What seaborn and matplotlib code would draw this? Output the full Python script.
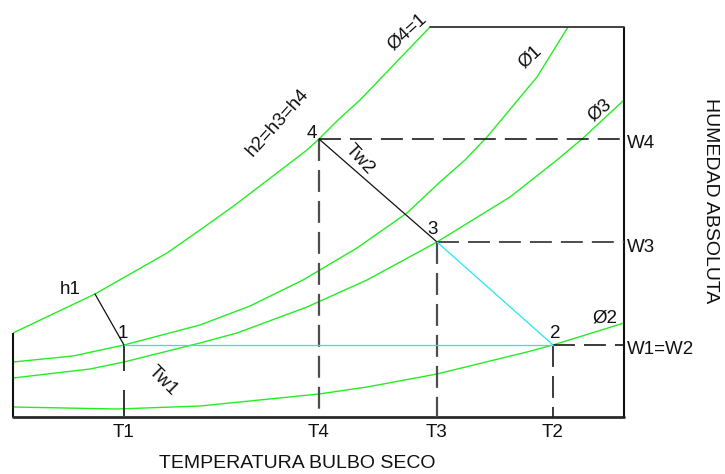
import matplotlib
matplotlib.use("Agg")
import matplotlib.pyplot as plt
import matplotlib.transforms as mtransforms
import seaborn as sns
import pandas as pd

# Dry-bulb temperature (T) and absolute humidity (W) in arbitrary chart units
T_MAX, W_MAX = 61.1, 39.0

# Saturation curve (phi4 = 1) and constant relative-humidity curves
sat_T = [0.0, 8.2, 15.4, 18.7, 22.2, 29.4, 30.6, 32.5, 34.7, 41.7]
sat_W = [8.4, 12.3, 16.4, 18.7, 21.2, 26.7, 27.8, 29.7, 31.7, 39.0]

phi1_T = [0.0, 6.0, 11.1, 18.7, 23.7, 29.0, 34.4, 39.4, 42.7, 45.2, 47.4, 52.4, 55.5]
phi1_W = [5.5, 6.1, 7.2, 9.2, 11.1, 13.7, 16.9, 20.4, 23.5, 25.7, 28.0, 34.0, 39.0]

phi3_T = [0.0, 7.7, 11.1, 18.7, 22.4, 29.4, 35.4, 42.4, 49.7, 54.4, 56.9, 61.1]
phi3_W = [3.9, 4.8, 5.5, 7.4, 8.4, 11.0, 13.7, 17.5, 22.0, 25.7, 27.8, 31.7]

phi2_T = [0.0, 10.4, 18.7, 30.6, 35.4, 42.4, 51.4, 54.0, 61.1]
phi2_W = [1.0, 0.8, 1.1, 2.3, 3.0, 4.3, 6.5, 7.2, 9.4]

# Process states 1..4
state_names = ["1", "2", "3", "4"]
state_T = [11.1, 54.0, 42.4, 30.6]
state_W = [7.2, 7.2, 17.5, 27.8]

# Enthalpy line through state 1 meets saturation here
h1_sat = (8.2, 12.3)

tick_labels_T = ["T1", "T4", "T3", "T2"]
tick_labels_W = ["W1=W2", "W3", "W4"]

sns.set_theme(style="white")
plt.rcParams["font.family"] = ["Liberation Sans", "DejaVu Sans"]
plt.rcParams["lines.scale_dashes"] = False

fig = plt.figure(figsize=(7.25, 4.74), dpi=100)
ax = fig.add_axes([13 / 725, 57 / 474, 611 / 725, 390 / 474])

GREEN = "#22ee22"
CYAN = "#22e6f2"
GRAY = "#4d4d4d"
INK = "#111111"
FS = 13.5

curves = pd.concat([
    pd.DataFrame({"T": sat_T, "W": sat_W, "curve": "sat"}),
    pd.DataFrame({"T": phi1_T, "W": phi1_W, "curve": "phi1"}),
    pd.DataFrame({"T": phi3_T, "W": phi3_W, "curve": "phi3"}),
    pd.DataFrame({"T": phi2_T, "W": phi2_W, "curve": "phi2"}),
])
sns.lineplot(data=curves, x="T", y="W", units="curve", estimator=None,
             sort=False, color=GREEN, lw=1.0, ax=ax, legend=False)

ax.set_xlim(0, T_MAX)
ax.set_ylim(0, W_MAX)
ax.set_xlabel("")
ax.set_ylabel("")
for s in ax.spines.values():
    s.set_visible(False)

T1, T2, T3, T4 = state_T
W1, W2, W3, W4 = state_W

# Chart frame: partial left edge, bottom, right edge, top right
frame_kw = dict(color=INK, lw=1.5, solid_capstyle="butt", clip_on=False)
ax.plot([0, 0], [0, sat_W[0]], **frame_kw)
ax.plot([0, T_MAX], [0, 0], color="#2a2a2a", lw=2.0, clip_on=False)
ax.plot([T_MAX, T_MAX], [0, W_MAX], **frame_kw)
ax.plot([sat_T[-1], T_MAX], [W_MAX, W_MAX], color="#333333", lw=1.3, clip_on=False)

# Dashed projections to the axes
dash = (0, (15.8, 6.5))
ax.plot([T4, T_MAX], [W4, W4], color="#1a1a1a", lw=1.2, linestyle=dash)
ax.plot([T3, T_MAX], [W3, W3], color=GRAY, lw=1.4, linestyle=dash)
ax.plot([T2, T_MAX], [W2, W2], color="#1a1a1a", lw=1.2, linestyle=dash)
ax.plot([T4, T4], [W4, 0], color=GRAY, lw=1.6, linestyle=dash)
ax.plot([T3, T3], [W3, 0], color=GRAY, lw=1.6, linestyle=dash)
ax.plot([T2, T2], [W2, 0], color="#1a1a1a", lw=1.2, linestyle=dash)
ax.plot([T1, T1], [W1, 0], color=INK, lw=1.2, linestyle=(0, (18.7, 13.7)))

# Process lines
ax.plot([h1_sat[0], T1], [h1_sat[1], W1], color=INK, lw=0.9)
ax.plot([T4, T3], [W4, W3], color=INK, lw=0.9)
ax.plot([T1, T2], [W1, W2], color=CYAN, lw=0.9)
ax.plot([T3, T2], [W3, W2], color=CYAN, lw=0.9)

# Axis ticks as labels
ax.set_xticks([T1, T4, T3, T2], tick_labels_T)
ax.yaxis.tick_right()
ax.set_yticks([W1, W3, W4], tick_labels_W)
ax.tick_params(axis="both", length=0, labelsize=FS, colors=INK)
ax.tick_params(axis="x", pad=5)
ax.tick_params(axis="y", pad=2)
ax.grid(False)
shift = mtransforms.ScaledTranslation(0, -0.03, fig.dpi_scale_trans)
for lbl in ax.get_yticklabels():
    lbl.set_transform(lbl.get_transform() + shift)

txt = dict(fontsize=FS, color=INK, ha="center", va="center")
ax.text(11.0, 8.4, state_names[0], **txt)
ax.text(54.2, 8.4, state_names[1], **txt)
ax.text(42.0, 18.8, state_names[2], **txt)
ax.text(29.9, 28.4, state_names[3], **txt)

ax.text(5.7, 12.7, "h1", **txt)
ax.text(15.0, 3.6, "Tw1", rotation=-45, **txt)
ax.text(34.7, 25.7, "Tw2", rotation=-47, **txt)
ax.text(26.5, 29.4, "h2=h3=h4", rotation=48, **txt)
ax.text(39.4, 38.5, "Ø4=1", rotation=42, **txt)
ax.text(51.7, 36.0, "Ø1", rotation=43, **txt)
ax.text(58.7, 30.7, "Ø3", rotation=40, **txt)
ax.text(59.2, 9.9, "Ø2", **txt)

fig.text(297 / 725, 1 - 463 / 474, "TEMPERATURA BULBO SECO",
         fontsize=14, color=INK, ha="center", va="center")
fig.text(711 / 725, 1 - 201 / 474, "HUMEDAD ABSOLUTA", rotation=-90,
         fontsize=14, color=INK, ha="center", va="center")

fig.savefig("out.png", dpi=100, facecolor="white")
